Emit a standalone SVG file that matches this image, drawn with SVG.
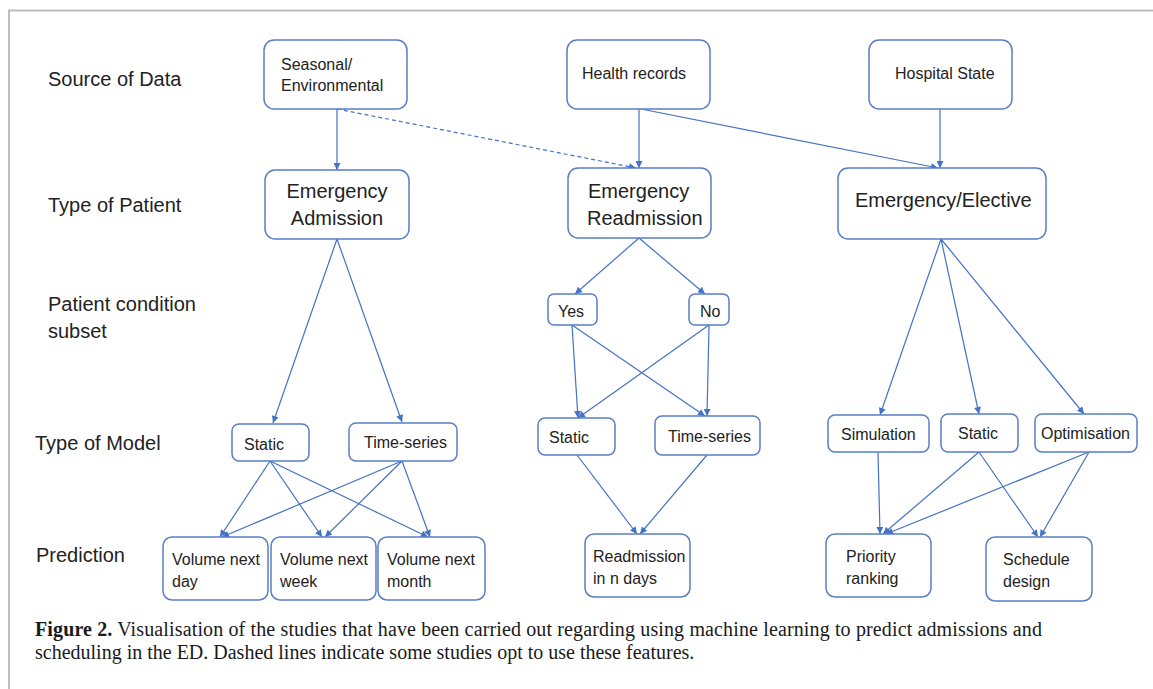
<svg xmlns="http://www.w3.org/2000/svg" width="1153" height="689" viewBox="0 0 1153 689">
<style>
.box{fill:#fff;stroke:#5A7EC6;stroke-width:1.5}
.t{font-family:"Liberation Sans",Arial,sans-serif;font-size:16px;fill:#222}
.tl{font-family:"Liberation Sans",Arial,sans-serif;font-size:20px;fill:#222}
.lab{font-family:"Liberation Sans",Arial,sans-serif;font-size:20px;fill:#222}
.cap{font-family:"Liberation Serif","Times New Roman",serif;font-size:20px;fill:#1a1a1a}
.c{fill:none;stroke:#4472C4;stroke-width:1.2;marker-end:url(#ah)}
.d{stroke-dasharray:4,3}
</style>
<defs>
<marker id="ah" viewBox="0 0 10 10" refX="10" refY="5" markerWidth="8" markerHeight="7" markerUnits="userSpaceOnUse" orient="auto">
<path d="M0,0 L10,5 L0,10 z" fill="#4472C4"/>
</marker>
</defs>
<rect width="1153" height="689" fill="#fff"/>
<path d="M9,689 L9,10.5 L1153,10.5" fill="none" stroke="#bdbdbd" stroke-width="2"/>

<g id="row-labels">
<text class="lab" x="48" y="86">Source of Data</text>
<text class="lab" x="48" y="212">Type of Patient</text>
<text class="lab" x="48" y="311">Patient condition</text>
<text class="lab" x="48" y="338">subset</text>
<text class="lab" x="35" y="450">Type of Model</text>
<text class="lab" x="36" y="562">Prediction</text>
</g>

<g id="connectors">
<path class="c" d="M337,109 L337,170"/>
<path class="c d" d="M337,109 L636,168"/>
<path class="c" d="M639,109 L639,168"/>
<path class="c" d="M641,109 L938,168"/>
<path class="c" d="M940,109 L940,168"/>
<path class="c" d="M337,239 L273,423"/>
<path class="c" d="M337,239 L402,422"/>
<path class="c" d="M639,238 L575,294"/>
<path class="c" d="M639,238 L705,294"/>
<path class="c" d="M572,325 L578,418"/>
<path class="c" d="M572,325 L705,416"/>
<path class="c" d="M709,325 L578,418"/>
<path class="c" d="M709,325 L707,416"/>
<path class="c" d="M577,455 L637,534"/>
<path class="c" d="M707,455 L640,534"/>
<path class="c" d="M941,239 L880,415"/>
<path class="c" d="M941,239 L979,414"/>
<path class="c" d="M941,239 L1084,414"/>
<path class="c" d="M878,452 L880,534"/>
<path class="c" d="M979,452 L883,534"/>
<path class="c" d="M1089,452 L886,534"/>
<path class="c" d="M979,452 L1038,537"/>
<path class="c" d="M1089,452 L1040,537"/>
<path class="c" d="M270,461 L220,537"/>
<path class="c" d="M270,461 L322,537"/>
<path class="c" d="M270,461 L428,537"/>
<path class="c" d="M402,461 L222,537"/>
<path class="c" d="M402,461 L325,537"/>
<path class="c" d="M402,461 L430,537"/>
</g>

<g id="src-seasonal"><rect class="box" x="264" y="40" width="143" height="69" rx="10"/><text class="t" x="281" y="70">Seasonal/</text><text class="t" x="281" y="91">Environmental</text></g>
<g id="src-health"><rect class="box" x="567" y="40" width="143" height="69" rx="10"/><text class="t" x="582" y="79">Health records</text></g>
<g id="src-hospital"><rect class="box" x="869" y="40" width="143" height="69" rx="10"/><text class="t" x="895" y="79">Hospital State</text></g>

<g id="pt-admission"><rect class="box" x="265" y="170" width="144" height="69" rx="10"/><text class="tl" x="337" y="198" text-anchor="middle">Emergency</text><text class="tl" x="337" y="225" text-anchor="middle">Admission</text></g>
<g id="pt-readmission"><rect class="box" x="568" y="168" width="143" height="70" rx="10"/><text class="tl" x="588" y="198">Emergency</text><text class="tl" x="587" y="225">Readmission</text></g>
<g id="pt-elective"><rect class="box" x="838" y="168" width="208" height="71" rx="10"/><text class="tl" x="855" y="207">Emergency/Elective</text></g>

<g id="cond-yes"><rect class="box" x="548" y="294" width="49" height="31" rx="6"/><text class="t" x="558" y="317">Yes</text></g>
<g id="cond-no"><rect class="box" x="689" y="294" width="40" height="31" rx="6"/><text class="t" x="700" y="317">No</text></g>

<g id="m-static-1"><rect class="box" x="232" y="424" width="77" height="37" rx="7"/><text class="t" x="244" y="450">Static</text></g>
<g id="m-ts-1"><rect class="box" x="349" y="423" width="108" height="38" rx="7"/><text class="t" x="364" y="448">Time-series</text></g>
<g id="m-static-2"><rect class="box" x="538" y="418" width="77" height="37" rx="7"/><text class="t" x="549" y="443">Static</text></g>
<g id="m-ts-2"><rect class="box" x="655" y="416" width="105" height="39" rx="7"/><text class="t" x="668" y="442">Time-series</text></g>
<g id="m-simulation"><rect class="box" x="828" y="415" width="101" height="37" rx="7"/><text class="t" x="841" y="440">Simulation</text></g>
<g id="m-static-3"><rect class="box" x="941" y="414" width="77" height="38" rx="7"/><text class="t" x="958" y="439">Static</text></g>
<g id="m-optimisation"><rect class="box" x="1035" y="414" width="102" height="38" rx="7"/><text class="t" x="1041" y="439">Optimisation</text></g>

<g id="p-day"><rect class="box" x="163" y="537" width="105" height="63" rx="9"/><text class="t" x="172" y="565">Volume next</text><text class="t" x="172" y="587">day</text></g>
<g id="p-week"><rect class="box" x="271" y="537" width="105" height="63" rx="9"/><text class="t" x="280" y="565">Volume next</text><text class="t" x="280" y="587">week</text></g>
<g id="p-month"><rect class="box" x="378" y="537" width="107" height="63" rx="9"/><text class="t" x="387" y="565">Volume next</text><text class="t" x="387" y="587">month</text></g>
<g id="p-readmission"><rect class="box" x="585" y="534" width="105" height="63" rx="9"/><text class="t" x="593" y="562">Readmission</text><text class="t" x="593" y="584">in n days</text></g>
<g id="p-priority"><rect class="box" x="826" y="534" width="105" height="63" rx="9"/><text class="t" x="846" y="562">Priority</text><text class="t" x="846" y="584">ranking</text></g>
<g id="p-schedule"><rect class="box" x="986" y="537" width="106" height="64" rx="9"/><text class="t" x="1003" y="565">Schedule</text><text class="t" x="1003" y="587">design</text></g>

<g id="caption">
<text class="cap" x="35" y="636" textLength="1007" lengthAdjust="spacing"><tspan font-weight="bold">Figure 2.</tspan> Visualisation of the studies that have been carried out regarding using machine learning to predict admissions and</text>
<text class="cap" x="35" y="659">scheduling in the ED. Dashed lines indicate some studies opt to use these features.</text>
</g>
</svg>
